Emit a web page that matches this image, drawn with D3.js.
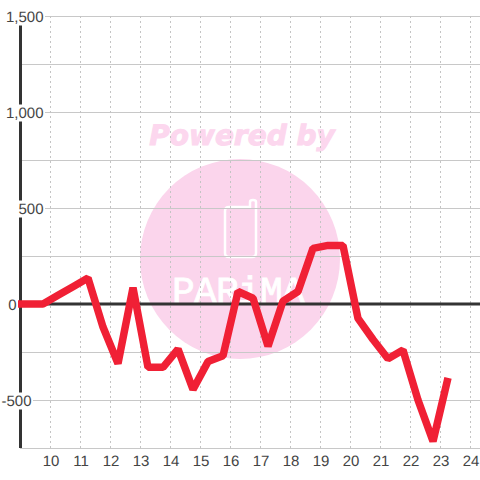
<!DOCTYPE html>
<html><head><meta charset="utf-8">
<script src="https://cdn.jsdelivr.net/npm/d3@7"></script>
<style>html,body{margin:0;background:#fff}svg{display:block}text{text-rendering:geometricPrecision}</style>
</head><body><svg id="c" width="480" height="480"></svg>
<script>
const hours=[8.75,9.25,9.75,10.25,10.75,11.25,11.75,12.25,12.75,13.25,13.75,14.25,14.75,15.25,15.75,16.25,16.75,17.25,17.75,18.25,18.75,19.25,19.75,20.25,20.75,21.25,21.75,22.25,22.75,23.25];
const values=[0,0,0,45,90,135,-120,-310,85,-330,-330,-235,-445,-300,-270,65,30,-220,15,65,290,305,305,-75,-185,-285,-240,-500,-715,-385];
const xTicks=[10,11,12,13,14,15,16,17,18,19,20,21,22,23,24];
const yLabels=[1500,1000,500,0,-500];
const yGrid=[1500,1250,1000,750,500,250,-250,-500,-750];
const watermarkTitle="Powered by";
const watermarkName="PARiMA";

const svg=d3.select("#c");
const x=d3.scaleLinear().domain([10,24]).range([50.5,470.5]);
const y=d3.scaleLinear().domain([1500,-750]).range([16,448]);
const fmt=v=>d3.format(",")(v).replace("\u2212","-");

// watermark
svg.append("text").attr("x",242).attr("y",145).attr("text-anchor","middle")
  .attr("font-family","DejaVu Sans").attr("font-weight","bold").attr("font-style","italic")
  .attr("font-size",28).attr("fill","#fcd7ee").attr("stroke","#fcd7ee").attr("stroke-width",1).text(watermarkTitle);
svg.append("circle").attr("cx",240).attr("cy",259).attr("r",100).attr("fill","#fbd5ec");
svg.append("path").attr("d","M229 207H250V202Q250 200 253 200Q256 200 256 202V253Q256 257 252 257H229Q225 257 225 253V211Q225 207 229 207Z")
  .attr("fill","none").attr("stroke","#fff").attr("stroke-width",2.5);
svg.append("text").attr("x",172).attr("y",303)
  .attr("font-family","Liberation Mono").attr("font-size",38).attr("fill","#fff").attr("stroke","#fff").attr("stroke-width",.8)
  .attr("letter-spacing",-.8).text(watermarkName);

// grid
svg.append("g").selectAll("line").data(yGrid).join("line")
  .attr("x1",20).attr("x2",480).attr("y1",d=>y(d)+.5).attr("y2",d=>y(d)+.5)
  .attr("stroke","#c8c8c8").attr("stroke-width",1);
svg.append("g").selectAll("line").data(xTicks).join("line")
  .attr("x1",d=>x(d)).attr("x2",d=>x(d)).attr("y1",16).attr("y2",448)
  .attr("stroke","#c4c4c4").attr("stroke-dasharray","2 3");

// axes
svg.append("line").attr("x1",20).attr("x2",480).attr("y1",y(0)).attr("y2",y(0)).attr("stroke","#333").attr("stroke-width",3);
svg.append("line").attr("x1",20.5).attr("x2",20.5).attr("y1",16).attr("y2",448).attr("stroke","#333").attr("stroke-width",3);

// series
svg.append("path").datum(hours.map((h,i)=>[h,values[i]]))
  .attr("d",d3.line().x(d=>x(d[0])).y(d=>y(d[1])))
  .attr("fill","none").attr("stroke","#f02035").attr("stroke-width",7.5).attr("stroke-linejoin","bevel");

// labels with white plates
const labelEnd=v=>v>0?43.5:(v<0?31.5:16.5);
const yl=svg.append("g").selectAll("g").data(yLabels).join("g");
yl.append("text").attr("x",labelEnd).attr("y",d=>y(d)+5.5).attr("text-anchor","end")
  .attr("font-family","Liberation Sans").attr("font-size",15).attr("fill","#444").text(fmt);
yl.each(function(){
  const g=d3.select(this),b=g.select("text").node().getBBox();
  g.insert("rect","text").attr("x",b.x-.5).attr("y",b.y).attr("width",b.width+2).attr("height",b.height).attr("fill","#fff");
});
svg.append("g").selectAll("text").data(xTicks).join("text")
  .attr("x",d=>x(d)+.5).attr("y",466).attr("text-anchor","middle")
  .attr("font-family","Liberation Sans").attr("font-size",15).attr("fill","#444").text(d=>d);
</script></body></html>
